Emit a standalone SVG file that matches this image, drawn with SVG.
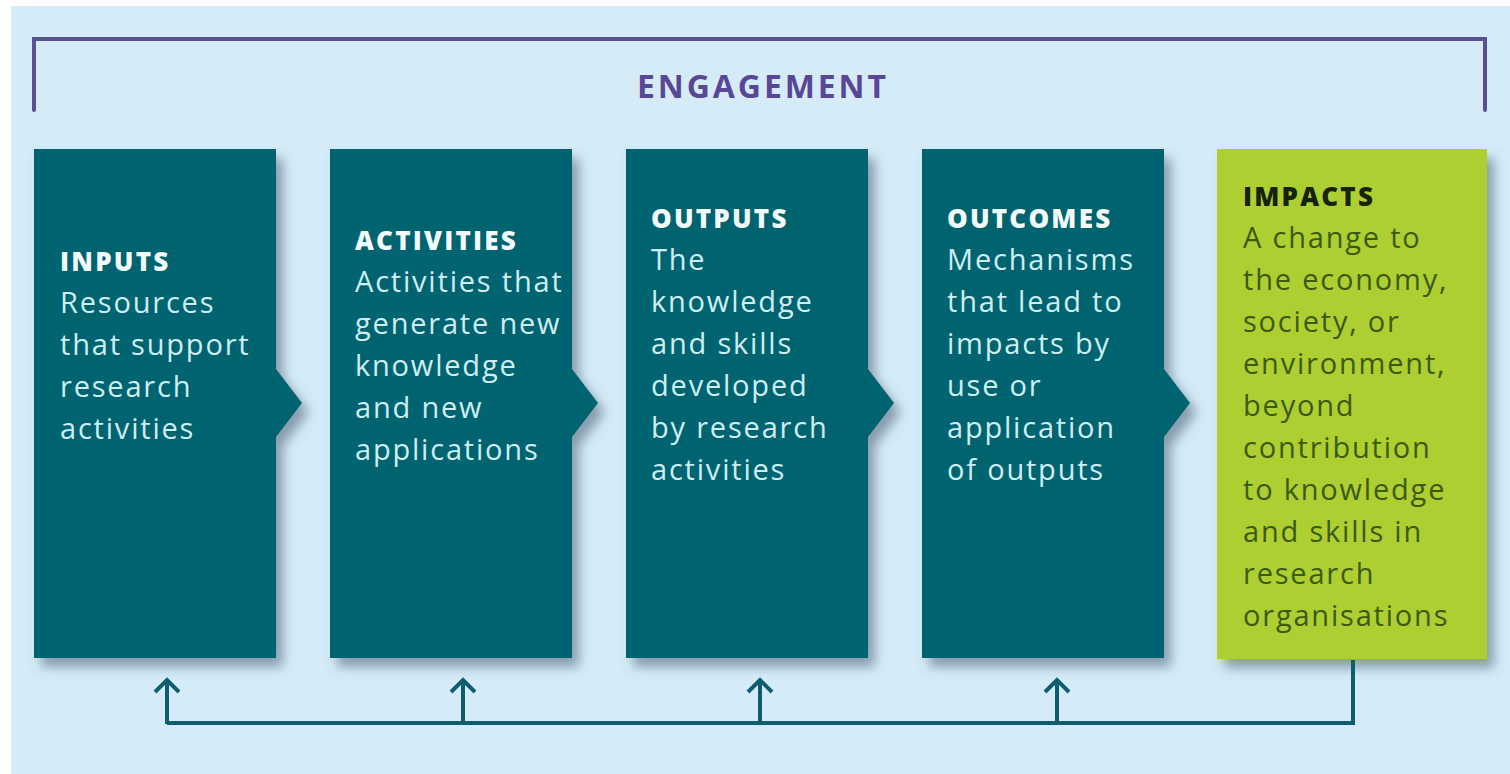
<svg xmlns="http://www.w3.org/2000/svg" width="1510" height="774" viewBox="0 0 1510 774">
  <defs>
    <filter id="shadow" x="-10%" y="-10%" width="130%" height="130%">
      <feDropShadow dx="7" dy="9" stdDeviation="6" flood-color="#4a5a70" flood-opacity="0.55"/>
    </filter>
    <path id="arrowUp" d="M-12,12 L0,0 L12,12 M0,0 L0,44"/>
  </defs>
  <style>
    .panel { fill: #d5ecf8; }
    .bracket { fill: none; stroke: #5a4f95; stroke-width: 4; stroke-linecap: round; stroke-linejoin: miter; }
    .engage { font-family: "Open Sans", "Noto Sans", sans-serif; font-weight: 700; font-size: 32px; fill: #5a4697; letter-spacing: 2.9px; }
    .teal { fill: #02646f; }
    .green { fill: #adcf32; }
    .title { font-family: "Open Sans", "Noto Sans", sans-serif; font-weight: 800; font-size: 26px; letter-spacing: 2.2px; }
    .body { font-family: "Open Sans", "Noto Sans", sans-serif; font-weight: 400; font-size: 29px; letter-spacing: 1.8px; }
    .t-light { fill: #f2fafb; }
    .b-light { fill: #cfeef3; }
    .t-dark { fill: #16220a; }
    .b-dark { fill: #3d5a12; }
    .link { fill: none; stroke: #0f5e70; stroke-width: 4; stroke-linejoin: miter; }
  </style>

  <rect x="0" y="0" width="1510" height="774" fill="#ffffff"/>
  <rect class="panel" x="11" y="6" width="1499" height="768"/>

  <!-- engagement bracket spanning all stages -->
  <g id="engagement">
    <path class="bracket" d="M34,110 L34,39 L1485,39 L1485,110"/>
    <text class="engage" x="763" y="98" text-anchor="middle">ENGAGEMENT</text>
  </g>

  <g id="inputs">
    <path class="teal" filter="url(#shadow)" d="M34,149 H276 V369 L302,403 L276,437 V658 H34 Z"/>
    <text class="title t-light" x="60" y="271">INPUTS</text>
    <text class="body b-light">
      <tspan x="60" y="313">Resources</tspan>
      <tspan x="60" y="355">that support</tspan>
      <tspan x="60" y="397">research</tspan>
      <tspan x="60" y="439">activities</tspan>
    </text>
  </g>

  <g id="activities">
    <path class="teal" filter="url(#shadow)" d="M330,149 H572 V369 L598,403 L572,437 V658 H330 Z"/>
    <text class="title t-light" x="355" y="250">ACTIVITIES</text>
    <text class="body b-light">
      <tspan x="355" y="292">Activities that</tspan>
      <tspan x="355" y="334">generate new</tspan>
      <tspan x="355" y="376">knowledge</tspan>
      <tspan x="355" y="418">and new</tspan>
      <tspan x="355" y="460">applications</tspan>
    </text>
  </g>

  <g id="outputs">
    <path class="teal" filter="url(#shadow)" d="M626,149 H868 V369 L894,403 L868,437 V658 H626 Z"/>
    <text class="title t-light" x="651" y="228">OUTPUTS</text>
    <text class="body b-light">
      <tspan x="651" y="270">The</tspan>
      <tspan x="651" y="312">knowledge</tspan>
      <tspan x="651" y="354">and skills</tspan>
      <tspan x="651" y="396">developed</tspan>
      <tspan x="651" y="438">by research</tspan>
      <tspan x="651" y="480">activities</tspan>
    </text>
  </g>

  <g id="outcomes">
    <path class="teal" filter="url(#shadow)" d="M922,149 H1164 V369 L1190,403 L1164,437 V658 H922 Z"/>
    <text class="title t-light" x="947" y="228">OUTCOMES</text>
    <text class="body b-light">
      <tspan x="947" y="270">Mechanisms</tspan>
      <tspan x="947" y="312">that lead to</tspan>
      <tspan x="947" y="354">impacts by</tspan>
      <tspan x="947" y="396">use or</tspan>
      <tspan x="947" y="438">application</tspan>
      <tspan x="947" y="480">of outputs</tspan>
    </text>
  </g>

  <g id="impacts">
    <rect class="green" filter="url(#shadow)" x="1217" y="149" width="270" height="510"/>
    <text class="title t-dark" x="1243" y="206">IMPACTS</text>
    <text class="body b-dark">
      <tspan x="1243" y="248">A change to</tspan>
      <tspan x="1243" y="290">the economy,</tspan>
      <tspan x="1243" y="332">society, or</tspan>
      <tspan x="1243" y="374">environment,</tspan>
      <tspan x="1243" y="416">beyond</tspan>
      <tspan x="1243" y="458">contribution</tspan>
      <tspan x="1243" y="500">to knowledge</tspan>
      <tspan x="1243" y="542">and skills in</tspan>
      <tspan x="1243" y="584">research</tspan>
      <tspan x="1243" y="626">organisations</tspan>
    </text>
  </g>

  <!-- feedback loop from impacts back to each earlier stage -->
  <g id="connectors">
    <path class="link" d="M1353,660 V723 H167"/>
    <use href="#arrowUp" class="link" x="167" y="680"/>
    <use href="#arrowUp" class="link" x="463" y="680"/>
    <use href="#arrowUp" class="link" x="760" y="680"/>
    <use href="#arrowUp" class="link" x="1057" y="680"/>
  </g>
</svg>
